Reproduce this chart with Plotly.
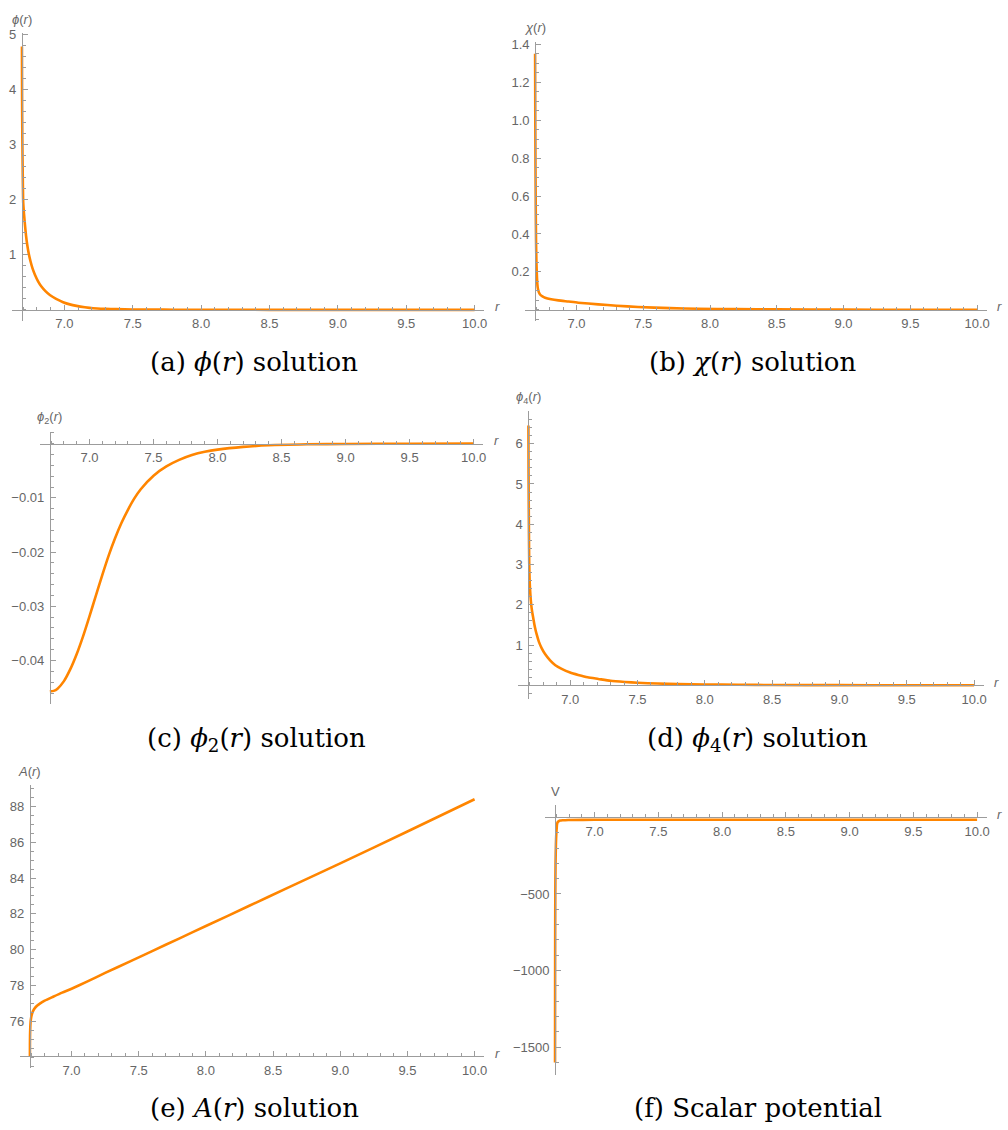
import numpy as np
import plotly.graph_objects as go

W, H = 1008, 1130
R0 = 6.69

# ---------------- data ----------------
r_phi = [6.690, 6.691, 6.693, 6.696, 6.6995, 6.705, 6.712, 6.720, 6.729, 6.740, 6.753, 6.768,
         6.785, 6.808, 6.834, 6.862, 6.894, 6.94, 6.991, 7.04, 7.089, 7.15, 7.21, 7.30, 7.38,
         7.5, 7.65, 7.8, 8.0, 8.5, 9.0, 9.5, 10.0]
phi = [4.79, 3.9, 3.1, 2.45, 1.95, 1.75, 1.55, 1.35, 1.18, 1.02, 0.88, 0.75,
       0.64, 0.52, 0.42, 0.34, 0.27, 0.20, 0.14, 0.10, 0.073, 0.048, 0.030, 0.019, 0.013,
       0.008, 0.005, 0.003, 0.002, 0.001, 0.0005, 0.0003, 0.0002]

r_chi = [6.690, 6.6915, 6.693, 6.695, 6.697, 6.700, 6.704, 6.709, 6.717, 6.727, 6.745, 6.765,
         6.81, 6.864, 6.94, 7.013, 7.163, 7.3, 7.461, 7.7, 7.909, 8.2, 8.5, 9.0, 9.5, 10.0]
chi = [1.35, 1.0, 0.75, 0.52, 0.37, 0.25, 0.17, 0.12, 0.095, 0.081, 0.071, 0.064,
       0.056, 0.050, 0.044, 0.038, 0.029, 0.022, 0.015, 0.009, 0.006, 0.004, 0.0025, 0.0013, 0.0007, 0.0004]

r_phi2 = [6.69, 6.72, 6.75, 6.80, 6.85, 6.90, 6.95, 7.00, 7.05, 7.10, 7.15, 7.20, 7.25, 7.30,
          7.35, 7.40, 7.50, 7.60, 7.70, 7.80, 7.90, 8.00, 8.20, 8.40, 8.70, 9.00, 9.50, 10.0]
phi2 = [-0.0457, -0.0456, -0.0452, -0.0438, -0.0416, -0.0388, -0.0355, -0.0318, -0.0280, -0.0242,
        -0.0206, -0.0174, -0.0146, -0.0122, -0.0101, -0.0084, -0.0059, -0.0042, -0.0030, -0.0021,
        -0.0015, -0.0011, -0.0006, -0.0003, -0.00012, -0.00005, -0.00001, 0.0]

r_phi4 = [6.690, 6.691, 6.6925, 6.694, 6.696, 6.699, 6.704, 6.710, 6.718, 6.727, 6.738, 6.751,
          6.768, 6.789, 6.815, 6.851, 6.89, 6.937, 7.0, 7.06, 7.13, 7.209, 7.3, 7.406, 7.5,
          7.65, 7.8, 8.0, 8.25, 8.5, 9.0, 9.5, 10.0]
phi4 = [6.45, 5.3, 4.4, 3.7, 3.05, 2.6, 2.28, 2.03, 1.82, 1.65, 1.45, 1.27,
        1.08, 0.92, 0.77, 0.62, 0.50, 0.41, 0.32, 0.26, 0.20, 0.16, 0.115, 0.085, 0.065,
        0.045, 0.032, 0.022, 0.014, 0.009, 0.005, 0.003, 0.002]

r_A = [6.690, 6.6903, 6.691, 6.6925, 6.695, 6.699, 6.705, 6.714, 6.728, 6.745, 6.764, 6.80,
       6.863, 6.93, 7.0, 7.111, 7.25, 7.432, 7.6, 7.8, 8.0, 8.323, 8.6, 9.0, 9.5, 10.0]
A = [74.06, 74.7, 75.2, 75.6, 75.95, 76.2, 76.4, 76.58, 76.75, 76.88, 76.99, 77.15,
     77.37, 77.6, 77.82, 78.2, 78.7, 79.33, 79.92, 80.62, 81.32, 82.45, 83.42, 84.82, 86.6, 88.4]

r_V = [6.690, 6.6905, 6.691, 6.692, 6.694, 6.697, 6.700, 6.703, 6.7056, 6.71, 6.72, 6.729,
       6.75, 6.794, 7.0, 8.0, 10.0]
V = [-1600, -1100, -800, -500, -300, -170, -105, -70, -45, -32, -25, -21,
     -19, -17, -16, -15.5, -15.5]

x_tickvals = [7.0, 7.5, 8.0, 8.5, 9.0, 9.5, 10.0]
x_ticktext = ["7.0", "7.5", "8.0", "8.5", "9.0", "9.5", "10.0"]

y_ticks_a = [1, 2, 3, 4, 5]
y_text_a = ["1", "2", "3", "4", "5"]
y_ticks_b = [0.2, 0.4, 0.6, 0.8, 1.0, 1.2, 1.4]
y_text_b = ["0.2", "0.4", "0.6", "0.8", "1.0", "1.2", "1.4"]
y_ticks_c = [-0.04, -0.03, -0.02, -0.01]
y_text_c = ["\u22120.04", "\u22120.03", "\u22120.02", "\u22120.01"]
y_ticks_d = [1, 2, 3, 4, 5, 6]
y_text_d = ["1", "2", "3", "4", "5", "6"]
y_ticks_e = [76, 78, 80, 82, 84, 86, 88]
y_text_e = ["76", "78", "80", "82", "84", "86", "88"]
y_ticks_f = [-1500, -1000, -500]
y_text_f = ["\u22121500", "\u22121000", "\u2212500"]

captions = ["(a) <i>\u03d5</i>(<i>r</i>) solution", "(b) <i>\u03c7</i>(<i>r</i>) solution",
            "(c) <i>\u03d5</i><sub>2</sub>(<i>r</i>) solution", "(d) <i>\u03d5</i><sub>4</sub>(<i>r</i>) solution",
            "(e) <i>A</i>(<i>r</i>) solution", "(f) Scalar potential"]
ylabels = ["<i>\u03d5</i>(<i>r</i>)", "<i>\u03c7</i>(<i>r</i>)", "<i>\u03d5</i><sub>2</sub>(<i>r</i>)",
           "<i>\u03d5</i><sub>4</sub>(<i>r</i>)", "<i>A</i>(<i>r</i>)", "V"]

# ---------------- layout geometry (pixels) ----------------
panels = [
    dict(r=r_phi, v=phi, yt=y_ticks_a, ytt=y_text_a, ymin=0.2,
         yax=22, r10=476, top=27.3, bot=317, refv=0, refpy=305.5, sc=55.3, cross=0),
    dict(r=r_chi, v=chi, yt=y_ticks_b, ytt=y_text_b, ymin=0.05,
         yax=536.7, r10=980, top=36, bot=317, refv=0, refpy=305.5, sc=190.8, cross=0),
    dict(r=r_phi2, v=phi2, yt=y_ticks_c, ytt=y_text_c, ymin=0.002,
         yax=50, r10=475, top=428, bot=701.7, refv=0, refpy=440, sc=5450, cross=0),
    dict(r=r_phi4, v=phi4, yt=y_ticks_d, ytt=y_text_d, ymin=0.2,
         yax=530, r10=977, top=407.3, bot=696.7, refv=0, refpy=683, sc=40.5, cross=0),
    dict(r=r_A, v=A, yt=y_ticks_e, ytt=y_text_e, ymin=0.5,
         yax=30, r10=476, top=783.3, bot=1068, refv=76, refpy=1020.7, sc=18, cross=74.06),
    dict(r=r_V, v=V, yt=y_ticks_f, ytt=y_text_f, ymin=100,
         yax=556.7, r10=980, top=803.3, bot=1075, refv=0, refpy=815.7, sc=0.154, cross=0),
]
cap_y = [358, 358, 737, 737, 1108, 1108]
cap_x = [255, 755, 257, 760, 255, 760]

AX = "#9c9c9c"
TXT = "#666666"
ORANGE = "#FF8500"
TFONT = dict(family="Liberation Sans, Arial, sans-serif", size=13, color=TXT)

fig = go.Figure()
layout = dict(width=W, height=H, margin=dict(l=0, r=0, t=0, b=0),
              paper_bgcolor="white", plot_bgcolor="white", showlegend=False)
annotations = []

for i, p in enumerate(panels):
    n = "" if i == 0 else str(i + 1)
    ppu = (p["r10"] - p["yax"]) / (10 - R0)
    xl, xr = p["yax"] - 10, p["r10"] + 9.5
    xrange = [R0 - (p["yax"] - xl) / ppu, 10 + (xr - p["r10"]) / ppu]
    yrange = [p["refv"] - (p["bot"] - p["refpy"]) / p["sc"], p["refv"] + (p["refpy"] - p["top"]) / p["sc"]]
    xax_py = p["refpy"] - (p["cross"] - p["refv"]) * p["sc"]

    fig.add_trace(go.Scatter(x=p["r"], y=p["v"], mode="lines", xaxis="x" + n, yaxis="y" + n,
                             line=dict(color=ORANGE, width=2.6, shape="spline", smoothing=0.6),
                             hoverinfo="skip"))

    xminor = [round(v, 3) for v in np.arange(6.7, 10.0001, 0.1)]
    ym = p["ymin"]
    k0 = int(np.ceil(yrange[0] / ym))
    k1 = int(np.floor(yrange[1] / ym))
    yminor = [k * ym for k in range(k0, k1 + 1)]

    layout["xaxis" + n] = dict(
        domain=[xl / W, xr / W], range=xrange, anchor="free", position=1 - xax_py / H,
        showgrid=False, zeroline=False, showline=True, linecolor=AX, linewidth=1,
        ticks="inside", ticklen=5, tickwidth=1, tickcolor=AX,
        tickmode="array", tickvals=x_tickvals, ticktext=x_ticktext, tickfont=TFONT,
        ticklabelstandoff=2,
        minor=dict(ticks="inside", ticklen=3, tickwidth=1, tickcolor=AX, tickmode="array",
                   tickvals=xminor, showgrid=False),
        fixedrange=True)
    layout["yaxis" + n] = dict(
        domain=[1 - p["bot"] / H, 1 - p["top"] / H], range=yrange, anchor="free",
        position=p["yax"] / W,
        showgrid=False, zeroline=False, showline=True, linecolor=AX, linewidth=1,
        ticks="inside", ticklen=5, tickwidth=1, tickcolor=AX,
        tickmode="array", tickvals=p["yt"], ticktext=p["ytt"], tickfont=TFONT,
        ticklabelstandoff=3,
        minor=dict(ticks="inside", ticklen=3, tickwidth=1, tickcolor=AX, tickmode="array",
                   tickvals=yminor, showgrid=False),
        fixedrange=True)

    # axis labels
    annotations.append(dict(text=ylabels[i], x=p["yax"] / W, y=1 - (p["top"] - 14) / H,
                            xref="paper", yref="paper", showarrow=False, xanchor="center",
                            yanchor="middle", font=dict(family="Liberation Sans, Arial", size=13, color=TXT)))
    annotations.append(dict(text="<i>r</i>", x=(xr + 13) / W, y=1 - (xax_py - 3) / H,
                            xref="paper", yref="paper", showarrow=False, xanchor="center",
                            yanchor="middle", font=dict(family="Liberation Sans, Arial", size=13, color=TXT)))
    annotations.append(dict(text=captions[i], x=cap_x[i] / W, y=1 - cap_y[i] / H,
                            xref="paper", yref="paper", showarrow=False, xanchor="center",
                            yanchor="middle", font=dict(family="DejaVu Serif, serif", size=26, color="black")))

layout["annotations"] = annotations
fig.update_layout(**layout)

fig.write_html("out.html", config={"displayModeBar": False},
               post_script="document.body.style.margin='0';document.body.style.overflow='hidden';")
